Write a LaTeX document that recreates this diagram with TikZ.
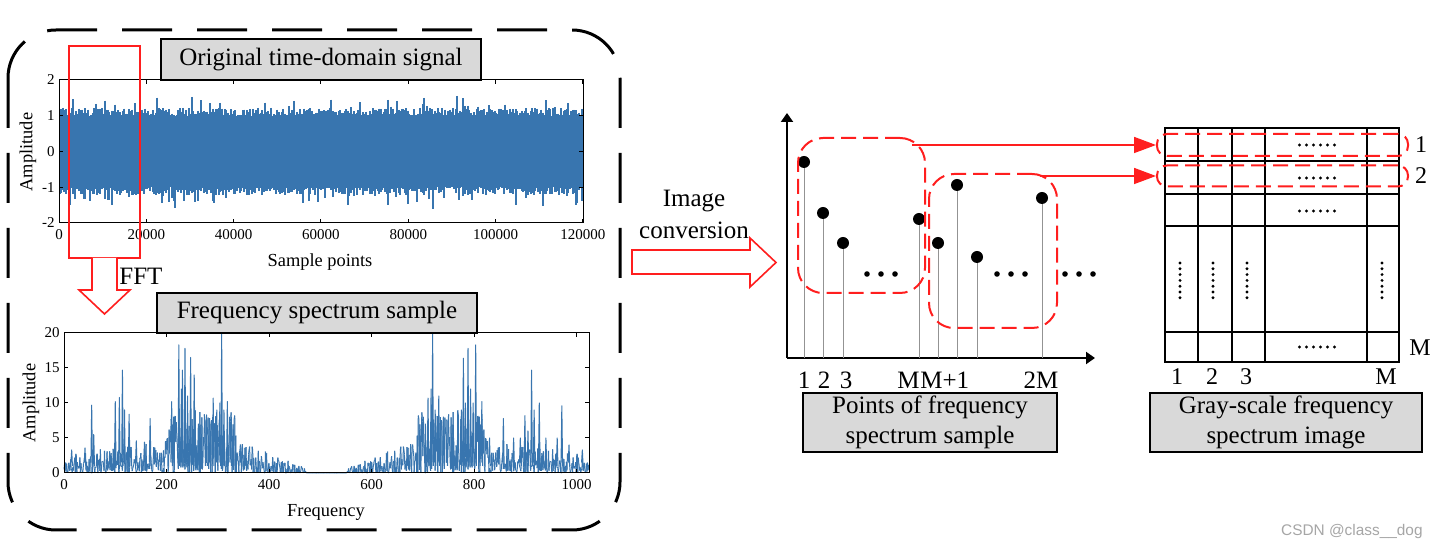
\documentclass[tikz,border=0pt]{standalone}
\usepackage{fontspec}
\setmainfont{Liberation Serif}
\newfontfamily\wmfont{Liberation Sans}
\usetikzlibrary{arrows.meta}
\definecolor{sigblue}{RGB}{56,117,175}
\definecolor{boxgray}{RGB}{217,217,217}
\definecolor{myred}{RGB}{255,30,30}
\begin{document}
\begin{tikzpicture}[x=0.5pt,y=-0.5pt,
  titlebox/.style={draw=black, line width=1pt, fill=boxgray, inner sep=0pt, font=\fontsize{12.5}{15}\selectfont},
  bigdash/.style={draw=black, line width=1.5pt, dash pattern=on 25pt off 12.5pt, rounded corners=24pt},
  reddash/.style={draw=myred, line width=1pt, dash pattern=on 7.5pt off 3.5pt, rounded corners=12.5pt, inner sep=0pt},
  axbox/.style={draw=black, line width=0.5pt},
  ticklab/.style={font=\fontsize{7.5}{9}\selectfont, inner sep=1pt},
  axlab/.style={font=\fontsize{9.2}{11}\selectfont},
  lab/.style={font=\fontsize{12.5}{16}\selectfont, inner sep=0pt},
  glab/.style={font=\fontsize{12}{14}\selectfont, inner sep=0pt},
  dotn/.style={circle, fill=black, inner sep=0pt, minimum size=6pt},
  smalldot/.style={circle, fill=black, inner sep=0pt, minimum size=2.8pt},
  tinydot/.style={circle, fill=black, inner sep=0pt, minimum size=1.6pt},
  stemline/.style={draw=gray!85, line width=0.5pt},
  specline/.style={draw=sigblue, line width=0.5pt, line join=round},
  hollowarrow/.style={draw=myred, line width=0.8pt, fill=white, line join=miter},
  redarrow/.style={draw=myred, line width=0.8pt, -{Triangle[length=11pt,width=8pt]}},
  axisarrow/.style={draw=black, line width=1pt, -{Triangle[length=4.5pt,width=6pt]}},
  gridline/.style={draw=black, line width=1pt}]
\fill[white] (0,0) rectangle (1436,549);
\useasboundingbox (0,0) rectangle (1436,549);

% ---------- left dashed frame ----------
\draw[bigdash] (8,30) rectangle (620,530);

% ---------- top plot: time-domain signal ----------
\pgfmathsetseed{12}
\foreach \i in {0,...,348}{
  \pgfmathsetmacro\xx{59.8+\i*1.5}
  \pgfmathsetmacro\sUp{1.0+0.22*rnd+0.4*(rnd>0.85)*rnd}
  \pgfmathsetmacro\sDn{1.0+0.22*rnd+0.4*(rnd>0.85)*rnd}
  \draw[sigblue, line width=0.85pt] (\xx,{151.5-35.75*\sUp}) -- (\xx,{151.5+35.75*\sDn});
}
\draw[axbox] (59,80) rectangle (583,223);
\foreach \i/\l in {0/0,1/20000,2/40000,3/60000,4/80000,5/100000,6/120000}{
  \pgfmathsetmacro\xx{59+\i*87.33}
  \draw[axbox] (\xx,223) -- (\xx,219);
  \draw[axbox] (\xx,80) -- (\xx,84);
  \node[ticklab] (tx\i) at (\xx,235) {\l};
}
\foreach \j/\l in {0/2,1/1,2/0,3/-1,4/-2}{
  \pgfmathsetmacro\yy{80+\j*35.75}
  \draw[axbox] (59,\yy) -- (63,\yy);
  \draw[axbox] (583,\yy) -- (579,\yy);
  \node[ticklab, anchor=east] (ty\j) at (57,\yy) {\l};
}
\node[axlab, rotate=90] (amp1) at (28,152) {Amplitude};
\node[axlab] (xl1) at (320,262) {Sample points};
\node[titlebox, minimum width=160pt, minimum height=20.5pt] (t1) at (321,59.5) {Original time-domain signal};

% selection rectangle and FFT arrow
\node[draw=myred, line width=1pt, minimum width=35.5pt, minimum height=106pt, inner sep=0pt] (sel) at (104.5,152) {};
\draw[hollowarrow] (92,258) -- (92,290) -- (79,290) -- (104.5,314) -- (130,290) -- (117,290) -- (117,258);
\node[lab, anchor=west] (fft) at (119,276) {FFT};

% ---------- bottom plot: spectrum ----------
\xdef\prevv{0.5}
\foreach \a/\ea/\b/\eb in {0/1.6/20/3, 20/3/90/3.6, 90/3.6/200/4.6, 200/4.6/210/9, 210/9/330/9, 330/9/350/5, 350/5/400/2.8, 400/2.8/470/0.9, 470/0.9/476/0.02, 476/0.02/512/0.02}{
  \pgfmathtruncatemacro\s{\a+1}
  \foreach \k in {\s,...,\b}{
    \pgfmathsetmacro\vv{(\ea+(\eb-\ea)*(\k-\a)/(\b-\a))*(rnd^1.7)}
    \draw[specline] ({64+0.5127*(\k-1)},{473-7*\prevv}) -- ({64+0.5127*\k},{473-7*\vv});
    \draw[specline] ({64+0.5127*(1025-\k)},{473-7*\prevv}) -- ({64+0.5127*(1024-\k)},{473-7*\vv});
    \xdef\prevv{\vv}
  }
}
\foreach \c/\h in {15/3.3, 41/3.6, 54/9.7, 58/5.5, 100/10.2, 108/10.8, 114/14.7, 118/9, 127/8.4, 141/4.6, 157/4.4, 168/7.8, 194/3.2, 210/10.2, 214/8, 224/18.3, 229/12, 231/14.7, 236/17.8, 241/11, 247/16.5, 254/14, 262/7, 278/8.3, 285/7, 291/10.7, 298/9, 304/10, 307.5/20, 312/9, 318.6/10.2, 325/6, 330/4.6, 345/3.5,
  705/7, 710/10.7, 716/12, 719/20, 724/9, 731/11, 740/8, 760/5, 775/9, 779/16.4, 783/10, 788/17.8, 793/12, 798/10, 803/18.3, 810/8, 815/10.2, 830/5, 857/7.8, 877/5, 890/5, 899/8.2, 905/6, 912/14.7, 917/9, 927/10, 940/5, 962/5, 971/9.6, 985/4, 1011/3.3}{
  \draw[specline] ({64+0.5127*(\c-1.5)},{473-7*1.5}) -- ({64+0.5127*\c},{473-7*\h}) -- ({64+0.5127*(\c+1.5)},{473-7*1.0});
}
\draw[axbox] (64,333) rectangle (589,473);
\foreach \i/\l in {0/0,1/200,2/400,3/600,4/800,5/1000}{
  \pgfmathsetmacro\xx{64+\i*102.54}
  \draw[axbox] (\xx,473) -- (\xx,469);
  \draw[axbox] (\xx,333) -- (\xx,337);
  \node[ticklab] (bx\i) at (\xx,485) {\l};
}
\foreach \j/\l in {0/0,1/5,2/10,3/15,4/20}{
  \pgfmathsetmacro\yy{473-\j*35}
  \draw[axbox] (64,\yy) -- (68,\yy);
  \draw[axbox] (589,\yy) -- (585,\yy);
  \node[ticklab, anchor=east] (by\j) at (62,\yy) {\l};
}
\node[axlab, rotate=90] (amp2) at (31,403) {Amplitude};
\node[axlab] (xl2) at (326,512) {Frequency};
\node[titlebox, minimum width=160pt, minimum height=20pt] (t2) at (317,313) {Frequency spectrum sample};

% ---------- middle arrow ----------
\node[lab, align=center] (conv) at (694,214) {Image\\conversion};
\draw[hollowarrow] (632,250) -- (750,250) -- (750,238) -- (776,262.5) -- (750,287) -- (750,274) -- (632,274) -- cycle;

% ---------- stem plot ----------
\coordinate (O) at (787,358);
\coordinate (ytop) at (787,113);
\coordinate (xend) at (1095,358);
\draw[axisarrow] (O) -- (ytop);
\draw[axisarrow] (O) -- (xend);
\foreach \n/\x/\y in {s1/804/162, s2/823/213, s3/843/243, sM/919/219, sMa/938/243, sMb/957/185, sMc/977/257, sMM/1042/198}{
  \draw[stemline] (\x,\y) -- (\x,358);
  \node[dotn] (\n) at (\x,\y) {};
}
\foreach \x in {867,881,895,997,1011,1025,1065,1079,1093}{
  \node[smalldot] (e\x) at (\x,274) {};
}
\node[reddash, minimum width=63.5pt, minimum height=77.5pt] (g1) at (861.5,215.5) {};
\node[reddash, minimum width=64pt, minimum height=77pt] (g2) at (993,251) {};
\node[lab] (l1) at (804,380) {1};
\node[lab] (l2) at (824,380) {2};
\node[lab] (l3) at (846,380) {3};
\node[lab, anchor=east] (lM) at (920,380) {M};
\node[lab, anchor=west] (lM1) at (920,380) {M+1};
\node[lab] (l2M) at (1041,380) {2M};
\node[titlebox, align=center, minimum width=127pt, minimum height=29.5pt] (pbox) at (930,422.5) {Points of frequency\\spectrum sample};

% ---------- grid image ----------
\draw[gridline] (1165,128) rectangle (1399,362);
\foreach \y in {161,194,226,332}{
  \draw[gridline] (1165,\y) -- (1399,\y);
}
\foreach \x in {1198,1232,1265,1367}{
  \draw[gridline] (\x,128) -- (\x,362);
}
\foreach \y in {145,178,211,347}{
  \foreach \d in {0,1,2,3,4,5}{
    \node[tinydot] (h\y-\d) at ({1299.5+7*\d},\y) {};
  }
}
\foreach \x in {1180,1213,1247,1382}{
  \foreach \d in {0,1,2,3,4,5,6}{
    \node[tinydot] (v\x-\d) at (\x,{263+5.8*\d}) {};
  }
}
\node[reddash, rounded corners=5pt, minimum width=125.5pt, minimum height=11pt] (r1) at (1282.5,145) {};
\node[reddash, rounded corners=5pt, minimum width=125.5pt, minimum height=10.5pt] (r2) at (1282.5,176) {};
\coordinate (c1) at (912,145);
\coordinate (c2) at (1040,176);
\draw[redarrow] (c1) -- (r1.west);
\draw[redarrow] (c2) -- (r2.west);
\node[glab] (gr1) at (1421,145) {1};
\node[glab] (gr2) at (1421,176) {2};
\node[glab] (grM) at (1420,348) {M};
\node[glab] (gc1) at (1177,377) {1};
\node[glab] (gc2) at (1212,377) {2};
\node[glab] (gc3) at (1246,377) {3};
\node[glab] (gcM) at (1386,377) {M};
\node[titlebox, align=center, minimum width=136pt, minimum height=29.5pt] (gbox) at (1286,422.5) {Gray-scale frequency\\spectrum image};

% ---------- watermark ----------
\node[font=\wmfont\fontsize{7.7}{9}\selectfont, text=gray!70, anchor=east, inner sep=0pt] (wm) at (1423,532) {CSDN @class\_\_dog};
\end{tikzpicture}
\end{document}
